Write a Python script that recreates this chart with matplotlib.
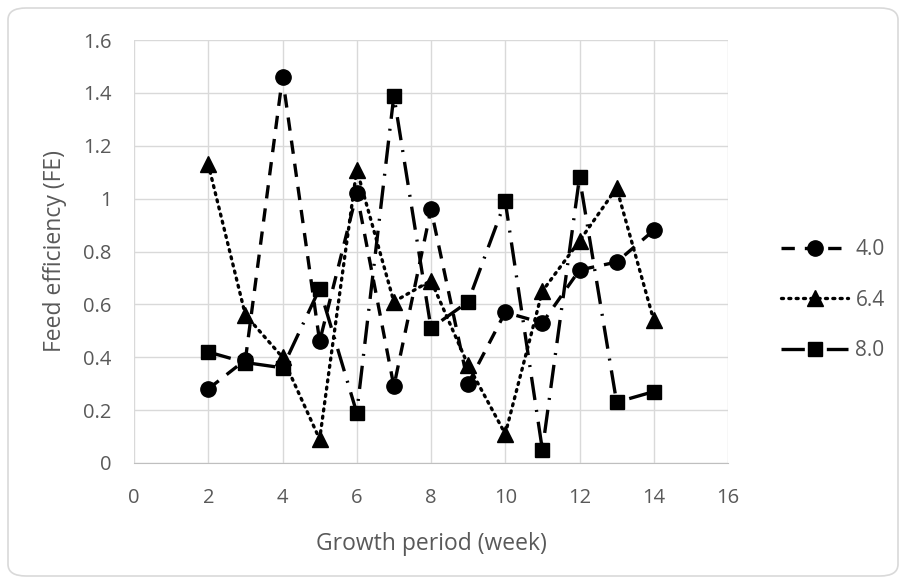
import matplotlib.pyplot as plt
from matplotlib.patches import FancyBboxPatch

# données
semaines = [2, 3, 4, 5, 6, 7, 8, 9, 10, 11, 12, 13, 14]
fe_40 = [0.28, 0.39, 1.46, 0.46, 1.02, 0.29, 0.96, 0.30, 0.57, 0.53, 0.73, 0.76, 0.88]
fe_64 = [1.13, 0.56, 0.40, 0.09, 1.11, 0.61, 0.69, 0.37, 0.11, 0.65, 0.84, 1.04, 0.54]
fe_80 = [0.42, 0.38, 0.36, 0.66, 0.19, 1.39, 0.51, 0.61, 0.99, 0.05, 1.08, 0.23, 0.27]
noms = ['4.0', '6.4', '8.0']

plt.rcParams['font.family'] = ['Open Sans', 'DejaVu Sans']
gris = '#595959'

fig = plt.figure(figsize=(9.06, 5.84), dpi=100)
ax = fig.add_axes([134 / 906, 1 - 463 / 584, (728 - 134) / 906, (463 - 40) / 584])

# cadre arrondi autour de la figure
cadre = FancyBboxPatch((8 / 906, 8 / 584), 890 / 906, 568 / 584,
                       boxstyle='round,pad=0,rounding_size=0.02',
                       transform=fig.transFigure, facecolor='white',
                       edgecolor='#d9d9d9', linewidth=1.2, zorder=-10)
fig.patches.append(cadre)

ax.plot(semaines, fe_40, color='black', linestyle=(0, (4, 3)), linewidth=2.4,
        marker='o', markersize=11, label=noms[0])
ax.plot(semaines, fe_64, color='black', linestyle=(0, (0.6, 1.6)), linewidth=2.4,
        dash_capstyle='round', marker='^', markersize=11, label=noms[1])
ax.plot(semaines, fe_80, color='black', linestyle=(0, (7, 3, 0.6, 3)), linewidth=2.4,
        marker='s', markersize=10, label=noms[2])

ax.set_xlim(0, 16)
ax.set_ylim(0, 1.6)
ax.set_xticks(range(0, 17, 2))
ax.set_yticks([0, 0.2, 0.4, 0.6, 0.8, 1.0, 1.2, 1.4, 1.6])
ax.set_yticklabels(['0', '0.2', '0.4', '0.6', '0.8', '1', '1.2', '1.4', '1.6'])
ax.grid(True, color='#d9d9d9', linewidth=1)
ax.set_axisbelow(True)
for s in ['top', 'right', 'left']:
    ax.spines[s].set_visible(False)
ax.spines['bottom'].set_color('#bfbfbf')
ax.tick_params(axis='x', length=0, labelsize=14.5, colors=gris, pad=18)
ax.tick_params(axis='y', length=0, labelsize=14.5, colors=gris, pad=16)

ax.set_xlabel('Growth period (week)', fontsize=16.5, color=gris, labelpad=17)
ax.set_ylabel('Feed efficiency (FE)', fontsize=16.5, color=gris, labelpad=12)

leg = ax.legend(loc='center left', bbox_to_anchor=(1.09, 0.385), frameon=False,
                fontsize=15, labelcolor=gris, handlelength=3.2, labelspacing=1.4,
                borderaxespad=0, borderpad=0, handletextpad=0.35)

fig.savefig('out.png', dpi=100)
